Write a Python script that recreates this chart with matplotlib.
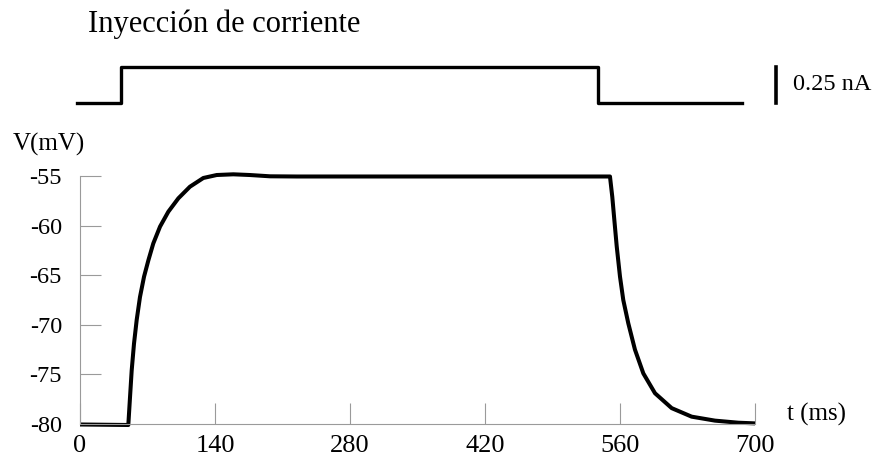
import matplotlib
matplotlib.use('Agg')
import matplotlib.pyplot as plt

plt.rcParams['font.family'] = ['Liberation Serif', 'DejaVu Serif']
plt.rcParams['axes.unicode_minus'] = False

# membrane potential trace (ms, mV)
t_ms = [0, 50.1, 51.9, 53.6, 56, 58.8, 62.2, 66.4, 70.9, 76, 83, 91.6, 102, 114, 127.9,
        141.8, 159, 176, 197, 225,
        549.6, 552, 554.1, 556.6, 560, 563.4, 568.6, 575.5, 584.2, 596.3, 613.6, 634.3,
        658.5, 682.7, 698.2, 700]
v_mv = [-80.05, -80.1, -77.25, -74.6, -71.9, -69.5, -67.2, -65.15, -63.5, -61.8, -60.1,
        -58.6, -57.25, -56.08, -55.2, -54.9, -54.83, -54.9, -55.03, -55.05,
        -55.05, -57.1, -59.4, -62.1, -65.15, -67.5, -69.85, -72.5, -74.9, -76.9, -78.4,
        -79.26, -79.66, -79.87, -79.93, -79.94]

# injected current step (ms, nA)
t_inj = [-3, 43, 43, 537, 537, 686]
i_inj = [0, 0, 0.25, 0.25, 0, 0]
scale_nA = 0.25

x_ticks = [0, 140, 280, 420, 560, 700]
y_ticks = [-80, -75, -70, -65, -60, -55]

W, H = 882, 466
fig = plt.figure(figsize=(W / 100, H / 100), dpi=100)

axis_grey = '#9a9a9a'

ax = fig.add_axes([80 / W, 1 - 424 / H, 675 / W, 248 / H])
ax.plot(t_ms, v_mv, color='black', lw=2.9, clip_on=False,
        solid_joinstyle='round', solid_capstyle='butt')
ax.set_xlim(0, 700)
ax.set_ylim(-80, -55)
ax.set_xticks(x_ticks)
ax.set_yticks(y_ticks)
for side in ('top', 'right'):
    ax.spines[side].set_visible(False)
for side in ('left', 'bottom'):
    ax.spines[side].set_color(axis_grey)
    ax.spines[side].set_linewidth(0.8)
ax.tick_params(axis='both', direction='in', length=15, width=0.8, color=axis_grey)
ax.tick_params(axis='y', pad=13, labelsize=17.5)
ax.tick_params(axis='x', pad=8, labelsize=19)

fig.text(13 / W, 1 - 151 / H, 'V(mV)', fontsize=18, va='baseline', ha='left')
fig.text(787 / W, 1 - 421 / H, 't (ms)', fontsize=18, va='baseline', ha='left')

# current injection panel
ax2 = fig.add_axes([80 / W, 1 - 103 / H, 675 / W, 36 / H])
ax2.plot(t_inj, i_inj, color='black', lw=2.4, clip_on=False)
ax2.plot([722, 722], [0, scale_nA], color='black', lw=2.6, clip_on=False)
ax2.text(739, scale_nA / 2, f'{scale_nA} nA', fontsize=17.5, va='center', ha='left')
ax2.set_xlim(0, 700)
ax2.set_ylim(0, 0.25)
ax2.axis('off')

fig.text(88 / W, 1 - 32 / H, 'Inyección de corriente', fontsize=22, va='baseline', ha='left')

fig.savefig('out.png', dpi=100)
